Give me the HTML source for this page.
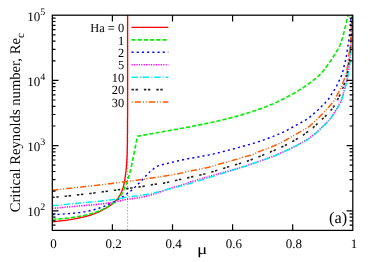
<!DOCTYPE html>
<html><head><meta charset="utf-8"><title>chart</title>
<style>
html,body{margin:0;padding:0;background:#fff;}
body{width:374px;height:262px;position:relative;overflow:hidden;font-family:"Liberation Serif",serif;color:#000;text-rendering:geometricPrecision;}
#tx{position:absolute;left:0;top:0;width:374px;height:262px;will-change:transform;}
.t{position:absolute;white-space:nowrap;font-size:13px;line-height:1;}
.xl{top:236.7px;transform:translateX(-50%);}
.yl{transform:translate(-100%,-50%);}
.yl sup{font-size:10px;line-height:0;vertical-align:5.8px;}
.lg{transform:translate(-100%,-50%);font-size:12.4px;}
</style></head><body>
<svg width="374" height="262" viewBox="0 0 374 262" style="position:absolute;left:0;top:0">
<rect width="374" height="262" fill="#fff"/>
<path d="M52.3,221.8 L53.8,221.7 L55.3,221.5 L56.8,221.4 L58.3,221.2 L59.7,221.0 L61.2,220.9 L62.7,220.7 L64.2,220.5 L65.7,220.3 L67.2,220.1 L68.7,219.9 L70.1,219.7 L71.6,219.4 L73.1,219.2 L74.6,218.9 L76.0,218.6 L77.5,218.3 L79.0,218.0 L80.4,217.7 L81.9,217.4 L83.4,217.0 L84.8,216.7 L86.3,216.3 L87.7,215.9 L89.1,215.5 L90.6,215.0 L92.0,214.6 L93.4,214.1 L94.8,213.5 L96.2,213.0 L97.6,212.4 L98.9,211.8 L100.3,211.1 L101.6,210.5 L103.0,209.8 L104.3,209.0 L105.6,208.3 L106.8,207.5 L108.2,206.8 L109.4,206.0 L110.7,205.1 L111.8,204.2 L113.0,203.2 L114.1,202.3 L115.2,201.2 L116.3,200.2 L117.2,199.0 L118.2,197.9 L119.0,196.6 L119.9,195.4 L120.6,194.1 L121.2,192.7 L121.8,191.3 L122.3,189.9 L122.8,188.5 L123.3,187.1 L123.7,185.7 L124.0,184.2 L124.3,182.7 L124.6,181.3 L124.8,179.8 L125.0,178.3 L125.2,176.8 L125.4,175.3 L125.6,173.8 L125.8,172.4 L126.0,170.9 L126.1,169.4 L126.3,167.9 L126.4,166.4 L126.6,164.9 L126.7,163.4 L126.8,161.9 L126.9,160.4 L126.9,158.9 L127.0,157.4 L127.1,155.9 L127.1,154.4 L127.2,152.9 L127.2,151.4 L127.2,150.0 L127.3,148.5 L127.3,147.0 L127.3,145.5 L127.4,144.0 L127.4,142.5 L127.4,141.0 L127.4,139.5 L127.4,138.0 L127.4,136.5 L127.4,135.0 L127.5,133.5 L127.5,132.0 L127.5,130.5 L127.5,129.0 L127.5,127.5 L127.5,126.0 L127.5,124.5 L127.5,123.0 L127.5,121.5 L127.5,120.0 L127.5,118.5 L127.6,117.0 L127.6,115.5 L127.6,114.0 L127.6,112.5 L127.6,111.0 L127.6,109.5 L127.6,108.0 L127.6,106.5 L127.6,105.0 L127.6,103.5 L127.6,102.0 L127.6,100.5 L127.6,99.0 L127.6,97.5 L127.6,96.1 L127.6,94.6 L127.6,93.1 L127.6,91.6 L127.6,90.1 L127.6,88.6 L127.6,87.1 L127.6,85.6 L127.6,84.1 L127.6,82.6 L127.6,81.1 L127.6,79.6 L127.6,78.1 L127.6,76.6 L127.6,75.1 L127.6,73.6 L127.6,72.1 L127.6,70.6 L127.6,69.1 L127.6,67.6 L127.6,66.1 L127.6,64.6 L127.6,63.1 L127.6,61.6 L127.6,60.1 L127.6,58.6 L127.6,57.1 L127.6,55.6 L127.6,54.1 L127.6,52.6 L127.6,51.1 L127.6,49.6 L127.6,48.1 L127.6,46.6 L127.6,45.1 L127.6,43.6 L127.6,42.2 L127.6,40.7 L127.6,39.2 L127.6,37.7 L127.6,36.2 L127.6,34.7 L127.6,33.2 L127.6,31.7 L127.6,30.2 L127.6,28.7 L127.6,27.2 L127.6,25.7 L127.6,24.2 L127.6,22.7 L127.6,21.2 L127.6,19.7 L127.6,18.2 L127.6,16.7 L127.7,15.2" fill="none" stroke="#ff0000" stroke-width="1.35" stroke-linejoin="round"/>
<path d="M52.3,219.4 L53.8,219.3 L55.3,219.2 L56.8,219.1 L58.3,219.0 L59.8,218.9 L61.3,218.8 L62.8,218.6 L64.2,218.5 L65.7,218.3 L67.2,218.2 L68.7,218.0 L70.2,217.8 L71.7,217.6 L73.1,217.4 L74.6,217.2 L76.1,216.9 L77.6,216.6 L79.1,216.4 L80.5,216.1 L82.0,215.8 L83.5,215.5 L84.9,215.2 L86.4,214.9 L87.9,214.5 L89.3,214.2 L90.7,213.8 L92.2,213.4 L93.6,212.9 L95.0,212.5 L96.5,212.0 L97.9,211.4 L99.3,210.9 L100.6,210.3 L102.0,209.7 L103.4,209.1 L104.7,208.4 L106.0,207.7 L107.3,207.0 L108.6,206.2 L109.9,205.5 L111.2,204.7 L112.4,203.8 L113.6,202.9 L114.8,202.0 L115.9,201.0 L117.0,200.0 L118.1,198.9 L119.1,197.8 L120.0,196.6 L120.9,195.4 L121.7,194.2 L122.4,192.9 L123.1,191.5 L123.7,190.2 L124.3,188.8 L124.9,187.4 L125.5,186.0 L126.0,184.6 L126.6,183.2 L127.1,181.8 L127.5,180.4 L128.0,179.0 L128.4,177.5 L128.9,176.1 L129.3,174.7 L129.7,173.2 L130.1,171.8 L130.5,170.3 L130.9,168.9 L131.2,167.4 L131.5,166.0 L131.8,164.5 L132.1,163.0 L132.4,161.6 L132.7,160.1 L133.0,158.6 L133.3,157.2 L133.6,155.7 L133.9,154.2 L134.2,152.8 L134.4,151.3 L134.7,149.8 L135.0,148.4 L135.3,146.9 L135.6,145.4 L135.9,143.9 L136.2,142.5 L136.5,141.0 L136.7,139.5 L137.0,138.1 L137.3,136.6 L137.7,136.2 L139.2,135.9 L140.6,135.7 L142.1,135.4 L143.6,135.1 L145.1,134.9 L146.5,134.6 L148.0,134.4 L149.5,134.1 L150.9,133.8 L152.4,133.6 L153.9,133.3 L155.4,133.0 L156.8,132.8 L158.3,132.5 L159.8,132.2 L161.2,132.0 L162.7,131.7 L164.2,131.4 L165.7,131.2 L167.1,130.9 L168.6,130.7 L170.1,130.4 L171.6,130.1 L173.0,129.9 L174.5,129.6 L176.0,129.3 L177.4,129.1 L178.9,128.8 L180.4,128.5 L181.9,128.3 L183.3,128.0 L184.8,127.7 L186.3,127.5 L187.7,127.2 L189.2,126.9 L190.7,126.6 L192.1,126.4 L193.6,126.1 L195.1,125.8 L196.5,125.5 L198.0,125.2 L199.5,124.9 L200.9,124.6 L202.4,124.3 L203.9,124.0 L205.3,123.7 L206.8,123.4 L208.3,123.1 L209.7,122.8 L211.2,122.5 L212.7,122.2 L214.1,121.8 L215.6,121.5 L217.0,121.2 L218.5,120.9 L219.9,120.5 L221.4,120.2 L222.9,119.8 L224.3,119.5 L225.8,119.1 L227.2,118.8 L228.7,118.4 L230.1,118.0 L231.6,117.6 L233.0,117.3 L234.5,116.9 L235.9,116.5 L237.3,116.1 L238.8,115.7 L240.2,115.3 L241.7,114.9 L243.1,114.4 L244.5,114.0 L246.0,113.6 L247.4,113.1 L248.8,112.7 L250.2,112.2 L251.7,111.8 L253.1,111.3 L254.5,110.8 L255.9,110.4 L257.3,109.9 L258.7,109.4 L260.1,108.9 L261.6,108.3 L263.0,107.8 L264.4,107.3 L265.8,106.8 L267.2,106.2 L268.5,105.7 L269.9,105.1 L271.3,104.5 L272.7,104.0 L274.1,103.4 L275.4,102.8 L276.8,102.2 L278.2,101.5 L279.5,100.9 L280.8,100.2 L282.2,99.5 L283.5,98.9 L284.8,98.2 L286.2,97.5 L287.5,96.8 L288.8,96.1 L290.1,95.4 L291.4,94.7 L292.8,93.9 L294.1,93.2 L295.3,92.5 L296.6,91.7 L297.9,90.9 L299.2,90.1 L300.4,89.3 L301.7,88.5 L303.0,87.7 L304.2,86.9 L305.4,86.0 L306.7,85.2 L307.9,84.3 L309.1,83.4 L310.3,82.6 L311.5,81.7 L312.7,80.7 L313.9,79.8 L315.1,78.9 L316.2,77.9 L317.4,77.0 L318.5,76.0 L319.6,74.9 L320.6,73.9 L321.6,72.8 L322.6,71.7 L323.5,70.5 L324.5,69.4 L325.4,68.2 L326.3,67.0 L327.2,65.7 L328.0,64.5 L328.9,63.3 L329.8,62.1 L330.6,60.9 L331.5,59.6 L332.3,58.4 L333.1,57.1 L333.9,55.8 L334.7,54.6 L335.5,53.3 L336.2,52.0 L337.0,50.7 L337.8,49.4 L338.6,48.1 L339.3,46.8 L339.9,45.5 L340.4,44.1 L341.0,42.7 L341.4,41.3 L341.9,39.9 L342.3,38.4 L342.7,37.0 L343.1,35.5 L343.5,34.1 L343.9,32.6 L344.2,31.2 L344.6,29.7 L345.0,28.3 L345.3,26.8 L345.7,25.4 L346.0,23.9 L346.4,22.5 L346.7,21.0 L347.1,19.6 L347.4,18.1 L347.8,16.7 L348.1,15.2" fill="none" stroke="#00f000" stroke-width="1.65" stroke-dasharray="4.1 2.1" stroke-linejoin="round"/>
<path d="M52.3,214.7 L53.8,214.6 L55.3,214.5 L56.8,214.5 L58.3,214.4 L59.8,214.3 L61.3,214.2 L62.8,214.1 L64.3,213.9 L65.8,213.8 L67.2,213.7 L68.7,213.6 L70.2,213.5 L71.7,213.4 L73.2,213.2 L74.7,213.1 L76.2,212.9 L77.7,212.8 L79.2,212.6 L80.7,212.4 L82.1,212.2 L83.6,211.9 L85.1,211.7 L86.6,211.4 L88.0,211.1 L89.5,210.8 L91.0,210.4 L92.4,210.1 L93.9,209.7 L95.3,209.3 L96.8,208.9 L98.2,208.5 L99.6,208.0 L101.0,207.5 L102.4,207.0 L103.8,206.5 L105.2,205.9 L106.6,205.3 L108.0,204.7 L109.3,204.1 L110.7,203.5 L112.0,202.8 L113.4,202.1 L114.7,201.4 L116.0,200.7 L117.3,199.9 L118.6,199.2 L119.9,198.4 L121.2,197.6 L122.4,196.9 L123.7,196.0 L125.0,195.2 L126.2,194.4 L127.4,193.5 L128.6,192.6 L129.8,191.7 L131.0,190.7 L132.1,189.8 L133.2,188.8 L134.3,187.7 L135.4,186.7 L136.5,185.7 L137.6,184.6 L138.6,183.6 L139.7,182.5 L140.7,181.5 L141.8,180.4 L142.8,179.3 L143.8,178.1 L144.8,177.0 L145.8,175.9 L146.8,174.8 L147.9,173.8 L148.9,172.7 L150.0,171.7 L151.2,170.7 L152.3,169.8 L153.5,168.8 L154.7,167.9 L155.9,167.1 L157.2,166.3 L158.6,165.7 L160.0,165.3 L161.5,164.9 L162.9,164.5 L164.4,164.2 L165.8,163.8 L167.3,163.5 L168.7,163.1 L170.2,162.8 L171.6,162.4 L173.1,162.1 L174.6,161.7 L176.0,161.4 L177.5,161.0 L178.9,160.7 L180.4,160.4 L181.9,160.0 L183.3,159.7 L184.8,159.4 L186.3,159.1 L187.7,158.8 L189.2,158.5 L190.7,158.3 L192.1,158.0 L193.6,157.7 L195.1,157.5 L196.6,157.2 L198.0,157.0 L199.5,156.7 L201.0,156.4 L202.5,156.2 L203.9,155.9 L205.4,155.7 L206.9,155.4 L208.4,155.1 L209.8,154.8 L211.3,154.5 L212.7,154.1 L214.2,153.8 L215.7,153.4 L217.1,153.1 L218.6,152.7 L220.0,152.4 L221.5,152.0 L222.9,151.6 L224.4,151.2 L225.8,150.9 L227.3,150.5 L228.7,150.1 L230.2,149.7 L231.6,149.3 L233.1,149.0 L234.5,148.6 L236.0,148.2 L237.4,147.8 L238.9,147.4 L240.3,147.0 L241.8,146.6 L243.2,146.2 L244.6,145.8 L246.1,145.4 L247.5,145.0 L249.0,144.6 L250.4,144.2 L251.8,143.8 L253.3,143.3 L254.7,142.9 L256.1,142.4 L257.6,142.0 L259.0,141.5 L260.4,141.0 L261.8,140.6 L263.2,140.1 L264.6,139.6 L266.0,139.0 L267.5,138.5 L268.9,138.0 L270.3,137.5 L271.7,136.9 L273.1,136.4 L274.5,135.8 L275.8,135.3 L277.2,134.7 L278.6,134.1 L280.0,133.6 L281.4,133.0 L282.7,132.4 L284.1,131.7 L285.4,131.1 L286.8,130.4 L288.1,129.7 L289.4,129.0 L290.7,128.2 L292.0,127.5 L293.3,126.8 L294.6,126.0 L295.9,125.3 L297.2,124.6 L298.6,123.9 L299.9,123.2 L301.2,122.5 L302.6,121.8 L303.9,121.1 L305.2,120.3 L306.4,119.5 L307.7,118.6 L308.9,117.8 L310.1,116.9 L311.2,115.9 L312.3,114.9 L313.5,113.9 L314.6,112.9 L315.7,112.0 L316.9,111.0 L318.0,110.0 L319.1,109.0 L320.1,107.9 L321.2,106.8 L322.2,105.8 L323.3,104.7 L324.4,103.7 L325.4,102.6 L326.4,101.5 L327.4,100.3 L328.3,99.2 L329.2,98.0 L330.0,96.7 L330.8,95.4 L331.6,94.1 L332.4,92.9 L333.2,91.6 L334.0,90.4 L334.8,89.1 L335.5,87.8 L336.3,86.5 L337.0,85.2 L337.6,83.8 L338.3,82.5 L338.9,81.1 L339.6,79.8 L340.2,78.4 L340.9,77.1 L341.4,75.7 L341.9,74.3 L342.4,72.8 L342.8,71.4 L343.2,70.0 L343.6,68.5 L343.9,67.0 L344.2,65.6 L344.6,64.1 L345.0,62.7 L345.3,61.2 L345.6,59.7 L345.9,58.3 L346.3,56.8 L346.5,55.3 L346.8,53.9 L347.0,52.4 L347.2,50.9 L347.4,49.4 L347.6,47.9 L347.9,46.5 L348.1,45.0 L348.3,43.5 L348.6,42.0 L348.8,40.5 L349.0,39.1 L349.2,37.6 L349.4,36.1 L349.5,34.6 L349.7,33.1 L349.9,31.6 L350.0,30.1 L350.1,28.6 L350.3,27.1 L350.4,25.7 L350.5,24.2 L350.6,22.7 L350.7,21.2 L350.8,19.7 L350.9,18.2 L351.1,16.7 L351.2,15.2" fill="none" stroke="#0000ff" stroke-width="1.45" stroke-dasharray="2.1 3.1" stroke-linejoin="round"/>
<path d="M52.3,208.4 L53.8,208.3 L55.3,208.1 L56.8,208.0 L58.3,207.9 L59.8,207.7 L61.3,207.6 L62.7,207.5 L64.2,207.3 L65.7,207.2 L67.2,207.0 L68.7,206.9 L70.2,206.8 L71.7,206.6 L73.2,206.5 L74.7,206.4 L76.2,206.2 L77.7,206.1 L79.2,206.0 L80.7,205.8 L82.2,205.7 L83.7,205.6 L85.1,205.5 L86.6,205.3 L88.1,205.2 L89.6,205.1 L91.1,205.0 L92.6,204.9 L94.1,204.7 L95.6,204.6 L97.1,204.5 L98.6,204.3 L100.1,204.1 L101.6,204.0 L103.1,203.8 L104.5,203.6 L106.0,203.4 L107.5,203.2 L109.0,202.9 L110.5,202.7 L111.9,202.4 L113.4,202.2 L114.9,201.9 L116.4,201.6 L117.8,201.3 L119.3,201.0 L120.8,200.7 L122.2,200.4 L123.7,200.0 L125.2,199.7 L126.6,199.4 L128.1,199.2 L129.6,199.0 L131.1,198.8 L132.6,198.6 L134.1,198.4 L135.6,198.2 L137.0,198.0 L138.5,197.8 L140.0,197.5 L141.4,197.2 L142.9,196.9 L144.4,196.6 L145.8,196.2 L147.3,195.9 L148.8,195.5 L150.2,195.1 L151.6,194.7 L153.1,194.3 L154.5,193.9 L155.9,193.4 L157.4,193.0 L158.8,192.5 L160.2,192.0 L161.6,191.5 L163.1,191.0 L164.5,190.5 L165.9,190.0 L167.3,189.5 L168.7,189.0 L170.1,188.4 L171.5,187.9 L172.9,187.4 L174.3,186.9 L175.8,186.5 L177.2,186.2 L178.7,185.8 L180.1,185.5 L181.6,185.1 L183.0,184.6 L184.4,184.2 L185.9,183.7 L187.3,183.2 L188.7,182.7 L190.1,182.2 L191.5,181.7 L192.9,181.2 L194.4,180.8 L195.8,180.4 L197.2,179.9 L198.7,179.5 L200.1,179.1 L201.6,178.6 L203.0,178.2 L204.4,177.8 L205.9,177.4 L207.3,177.0 L208.8,176.5 L210.2,176.1 L211.6,175.7 L213.1,175.3 L214.5,174.9 L216.0,174.5 L217.4,174.1 L218.8,173.7 L220.3,173.3 L221.7,172.9 L223.2,172.5 L224.6,172.1 L226.1,171.7 L227.5,171.3 L229.0,170.9 L230.4,170.5 L231.8,170.1 L233.3,169.7 L234.7,169.2 L236.2,168.8 L237.6,168.4 L239.1,168.0 L240.5,167.6 L241.9,167.2 L243.4,166.7 L244.8,166.3 L246.2,165.8 L247.6,165.3 L249.0,164.8 L250.5,164.3 L251.9,163.8 L253.3,163.4 L254.7,162.9 L256.1,162.4 L257.5,161.9 L259.0,161.4 L260.4,160.9 L261.8,160.4 L263.2,159.9 L264.6,159.4 L266.0,158.9 L267.5,158.4 L268.9,157.9 L270.3,157.4 L271.7,156.9 L273.1,156.3 L274.5,155.8 L275.8,155.2 L277.2,154.6 L278.6,154.0 L280.0,153.4 L281.3,152.8 L282.7,152.2 L284.1,151.6 L285.5,151.0 L286.8,150.4 L288.2,149.7 L289.5,149.1 L290.9,148.4 L292.2,147.8 L293.6,147.1 L294.9,146.4 L296.2,145.7 L297.5,145.0 L298.8,144.2 L300.1,143.5 L301.5,142.8 L302.8,142.1 L304.1,141.4 L305.4,140.6 L306.7,139.8 L307.9,139.0 L309.2,138.2 L310.4,137.3 L311.6,136.4 L312.8,135.5 L314.0,134.6 L315.1,133.6 L316.3,132.6 L317.4,131.7 L318.5,130.7 L319.6,129.7 L320.7,128.6 L321.8,127.5 L322.8,126.5 L323.8,125.4 L324.9,124.3 L326.0,123.3 L327.0,122.2 L328.0,121.1 L329.0,120.0 L330.0,118.9 L331.0,117.7 L331.8,116.5 L332.7,115.3 L333.5,114.0 L334.3,112.7 L335.1,111.5 L335.9,110.2 L336.7,108.9 L337.5,107.6 L338.2,106.3 L339.0,105.0 L339.7,103.7 L340.4,102.4 L341.0,101.0 L341.5,99.6 L342.0,98.2 L342.4,96.7 L342.8,95.3 L343.2,93.9 L343.6,92.4 L344.0,91.0 L344.4,89.5 L344.8,88.1 L345.2,86.6 L345.6,85.2 L346.0,83.7 L346.4,82.3 L346.7,80.8 L347.0,79.4 L347.3,77.9 L347.6,76.4 L347.8,74.9 L348.1,73.5 L348.3,72.0 L348.5,70.5 L348.7,69.0 L348.9,67.5 L349.1,66.0 L349.4,64.6 L349.6,63.1 L349.8,61.6 L350.0,60.1 L350.2,58.6 L350.3,57.1 L350.4,55.6 L350.5,54.1 L350.6,52.6 L350.7,51.1 L350.8,49.6 L350.9,48.1 L351.0,46.6 L351.1,45.2 L351.1,43.7 L351.2,42.2 L351.3,40.7 L351.4,39.2 L351.4,37.7 L351.5,36.2 L351.6,34.7 L351.7,33.2 L351.7,31.7 L351.8,30.2 L351.8,28.7 L351.9,27.2 L352.0,25.7 L352.0,24.2 L352.1,22.7 L352.1,21.2 L352.2,19.7 L352.2,18.2 L352.3,16.7 L352.3,15.2" fill="none" stroke="#ff00ff" stroke-width="1.6" stroke-dasharray="1.2 1.23" stroke-linejoin="round"/>
<path d="M52.3,205.8 L53.8,205.6 L55.3,205.5 L56.8,205.3 L58.3,205.2 L59.7,205.0 L61.2,204.9 L62.7,204.7 L64.2,204.6 L65.7,204.4 L67.2,204.3 L68.7,204.1 L70.2,204.0 L71.7,203.8 L73.2,203.7 L74.6,203.5 L76.1,203.4 L77.6,203.2 L79.1,203.1 L80.6,202.9 L82.1,202.8 L83.6,202.7 L85.1,202.5 L86.6,202.4 L88.1,202.3 L89.6,202.1 L91.1,202.0 L92.5,201.9 L94.0,201.7 L95.5,201.6 L97.0,201.5 L98.5,201.3 L100.0,201.2 L101.5,201.0 L103.0,200.8 L104.5,200.7 L105.9,200.5 L107.4,200.3 L108.9,200.1 L110.4,199.9 L111.9,199.7 L113.4,199.5 L114.9,199.3 L116.3,199.1 L117.8,198.9 L119.3,198.6 L120.8,198.4 L122.2,198.0 L123.7,197.7 L125.2,197.4 L126.6,197.1 L128.1,196.9 L129.6,196.8 L131.1,196.6 L132.6,196.4 L134.1,196.2 L135.6,196.1 L137.0,195.9 L138.5,195.7 L140.0,195.5 L141.5,195.2 L143.0,195.0 L144.4,194.7 L145.9,194.5 L147.4,194.2 L148.9,194.0 L150.3,193.7 L151.8,193.4 L153.3,193.1 L154.7,192.7 L156.2,192.4 L157.6,192.0 L159.1,191.7 L160.5,191.3 L162.0,190.9 L163.4,190.5 L164.9,190.2 L166.3,189.8 L167.8,189.4 L169.2,189.0 L170.7,188.6 L172.1,188.2 L173.6,187.8 L175.0,187.4 L176.5,187.0 L177.9,186.7 L179.4,186.3 L180.8,185.9 L182.3,185.6 L183.7,185.2 L185.2,184.8 L186.6,184.4 L188.1,184.0 L189.5,183.6 L190.9,183.2 L192.4,182.8 L193.8,182.3 L195.2,181.9 L196.7,181.5 L198.1,181.0 L199.5,180.6 L201.0,180.1 L202.4,179.7 L203.8,179.2 L205.2,178.8 L206.7,178.3 L208.1,177.9 L209.5,177.4 L211.0,177.0 L212.4,176.6 L213.8,176.1 L215.3,175.7 L216.7,175.2 L218.1,174.8 L219.5,174.3 L221.0,173.9 L222.4,173.4 L223.8,173.0 L225.3,172.5 L226.7,172.1 L228.1,171.6 L229.5,171.2 L231.0,170.7 L232.4,170.3 L233.8,169.8 L235.3,169.4 L236.7,169.0 L238.1,168.5 L239.6,168.1 L241.0,167.6 L242.4,167.2 L243.8,166.7 L245.3,166.2 L246.7,165.8 L248.1,165.3 L249.5,164.8 L250.9,164.3 L252.3,163.8 L253.7,163.3 L255.2,162.8 L256.6,162.3 L258.0,161.8 L259.4,161.4 L260.8,160.9 L262.2,160.4 L263.7,159.9 L265.1,159.4 L266.5,158.9 L267.9,158.4 L269.3,157.9 L270.7,157.4 L272.1,156.8 L273.5,156.3 L274.9,155.7 L276.3,155.1 L277.6,154.5 L279.0,153.9 L280.4,153.4 L281.8,152.7 L283.1,152.1 L284.5,151.5 L285.9,150.9 L287.2,150.3 L288.6,149.7 L290.0,149.0 L291.3,148.4 L292.6,147.7 L294.0,147.0 L295.3,146.3 L296.6,145.6 L297.9,144.9 L299.2,144.2 L300.5,143.5 L301.9,142.7 L303.2,142.0 L304.5,141.3 L305.8,140.6 L307.1,139.8 L308.3,139.0 L309.5,138.1 L310.8,137.2 L312.0,136.3 L313.2,135.4 L314.3,134.5 L315.5,133.5 L316.6,132.6 L317.8,131.6 L318.9,130.6 L320.0,129.6 L321.1,128.6 L322.1,127.5 L323.2,126.4 L324.2,125.3 L325.2,124.3 L326.3,123.2 L327.4,122.1 L328.4,121.1 L329.4,119.9 L330.4,118.8 L331.3,117.6 L332.2,116.4 L333.0,115.2 L333.9,113.9 L334.7,112.7 L335.5,111.4 L336.2,110.1 L337.0,108.9 L337.8,107.6 L338.6,106.3 L339.3,105.0 L340.0,103.7 L340.7,102.3 L341.3,101.0 L341.9,99.6 L342.3,98.1 L342.7,96.7 L343.1,95.3 L343.5,93.8 L343.9,92.4 L344.3,90.9 L344.7,89.5 L345.1,88.0 L345.5,86.6 L345.9,85.1 L346.3,83.7 L346.7,82.3 L347.0,80.8 L347.3,79.3 L347.6,77.9 L347.9,76.4 L348.1,74.9 L348.4,73.4 L348.6,71.9 L348.8,70.5 L349.0,69.0 L349.2,67.5 L349.4,66.0 L349.7,64.5 L349.9,63.1 L350.1,61.6 L350.2,60.1 L350.4,58.6 L350.5,57.1 L350.6,55.6 L350.7,54.1 L350.8,52.6 L350.8,51.1 L350.9,49.6 L351.0,48.1 L351.1,46.6 L351.1,45.1 L351.2,43.6 L351.3,42.1 L351.4,40.6 L351.4,39.2 L351.5,37.7 L351.6,36.2 L351.6,34.7 L351.7,33.2 L351.7,31.7 L351.8,30.2 L351.8,28.7 L351.8,27.2 L351.9,25.7 L351.9,24.2 L352.0,22.7 L352.0,21.2 L352.0,19.7 L352.1,18.2 L352.1,16.7 L352.1,15.2" fill="none" stroke="#00eeee" stroke-width="1.5" stroke-dasharray="6.3 2.2 1 1.9" stroke-linejoin="round"/>
<path d="M52.3,197.4 L53.8,197.3 L55.3,197.1 L56.8,197.0 L58.3,196.9 L59.8,196.7 L61.3,196.6 L62.7,196.4 L64.2,196.3 L65.7,196.2 L67.2,196.0 L68.7,195.9 L70.2,195.7 L71.7,195.5 L73.2,195.4 L74.7,195.2 L76.2,195.1 L77.6,194.9 L79.1,194.7 L80.6,194.6 L82.1,194.4 L83.6,194.2 L85.1,194.1 L86.6,193.9 L88.1,193.7 L89.5,193.5 L91.0,193.4 L92.5,193.2 L94.0,193.0 L95.5,192.8 L97.0,192.6 L98.5,192.4 L99.9,192.2 L101.4,192.0 L102.9,191.8 L104.4,191.6 L105.9,191.4 L107.4,191.2 L108.9,191.0 L110.3,190.8 L111.8,190.6 L113.3,190.4 L114.8,190.2 L116.3,190.0 L117.8,189.8 L119.3,189.6 L120.7,189.4 L122.2,189.2 L123.7,189.0 L125.2,188.8 L126.7,188.6 L128.2,188.4 L129.6,188.2 L131.1,188.0 L132.6,187.9 L134.1,187.7 L135.6,187.5 L137.1,187.3 L138.6,187.1 L140.0,186.8 L141.5,186.6 L143.0,186.4 L144.5,186.1 L145.9,185.9 L147.4,185.6 L148.9,185.3 L150.4,185.1 L151.8,184.8 L153.3,184.6 L154.8,184.3 L156.3,184.1 L157.8,183.9 L159.3,183.7 L160.7,183.5 L162.2,183.3 L163.7,183.1 L165.2,182.8 L166.7,182.6 L168.1,182.3 L169.6,182.0 L171.1,181.7 L172.5,181.3 L174.0,181.0 L175.4,180.6 L176.9,180.2 L178.3,179.9 L179.8,179.5 L181.2,179.2 L182.7,178.9 L184.2,178.6 L185.6,178.2 L187.1,177.9 L188.6,177.6 L190.0,177.3 L191.5,176.9 L192.9,176.6 L194.4,176.3 L195.9,176.0 L197.3,175.7 L198.8,175.3 L200.3,175.0 L201.7,174.7 L203.2,174.3 L204.6,174.0 L206.1,173.6 L207.5,173.2 L209.0,172.7 L210.4,172.3 L211.8,171.9 L213.3,171.4 L214.7,171.0 L216.1,170.6 L217.6,170.1 L219.0,169.7 L220.4,169.3 L221.9,168.9 L223.3,168.4 L224.7,168.0 L226.2,167.6 L227.6,167.1 L229.0,166.7 L230.5,166.3 L231.9,165.9 L233.4,165.4 L234.8,165.0 L236.2,164.6 L237.7,164.2 L239.1,163.7 L240.5,163.3 L242.0,162.8 L243.4,162.4 L244.8,161.9 L246.2,161.4 L247.6,160.9 L249.1,160.4 L250.5,160.0 L251.9,159.4 L253.3,158.9 L254.7,158.4 L256.1,157.9 L257.5,157.3 L258.9,156.7 L260.3,156.2 L261.6,155.6 L263.0,155.1 L264.4,154.5 L265.8,153.9 L267.2,153.4 L268.6,152.8 L270.0,152.2 L271.3,151.6 L272.7,151.0 L274.1,150.4 L275.5,149.8 L276.8,149.2 L278.2,148.6 L279.6,148.0 L280.9,147.4 L282.3,146.8 L283.6,146.1 L285.0,145.5 L286.3,144.8 L287.7,144.1 L289.0,143.4 L290.3,142.7 L291.6,142.0 L292.9,141.3 L294.2,140.5 L295.5,139.8 L296.8,139.0 L298.1,138.2 L299.4,137.4 L300.6,136.6 L301.9,135.8 L303.2,135.0 L304.4,134.2 L305.6,133.3 L306.8,132.4 L308.0,131.5 L309.2,130.6 L310.4,129.7 L311.6,128.8 L312.7,127.8 L313.9,126.9 L315.0,125.9 L316.1,124.9 L317.2,123.8 L318.3,122.8 L319.4,121.8 L320.5,120.8 L321.6,119.7 L322.7,118.7 L323.7,117.7 L324.8,116.6 L325.9,115.6 L326.9,114.5 L327.9,113.4 L329.0,112.3 L330.0,111.2 L331.0,110.0 L331.9,108.9 L332.8,107.7 L333.8,106.5 L334.6,105.3 L335.4,104.1 L336.1,102.7 L336.8,101.4 L337.4,100.0 L338.1,98.7 L338.7,97.3 L339.4,96.0 L340.1,94.7 L340.7,93.3 L341.3,91.9 L341.8,90.5 L342.3,89.1 L342.9,87.7 L343.4,86.3 L343.9,84.9 L344.3,83.5 L344.8,82.0 L345.3,80.6 L345.7,79.2 L346.1,77.7 L346.5,76.3 L346.9,74.8 L347.2,73.4 L347.4,71.9 L347.6,70.4 L347.8,68.9 L348.0,67.4 L348.2,66.0 L348.5,64.5 L348.7,63.0 L348.9,61.5 L349.1,60.0 L349.3,58.5 L349.5,57.1 L349.7,55.6 L349.8,54.1 L350.0,52.6 L350.1,51.1 L350.3,49.6 L350.4,48.1 L350.6,46.6 L350.7,45.1 L350.8,43.6 L350.9,42.1 L351.0,40.6 L351.0,39.1 L351.1,37.7 L351.2,36.2 L351.3,34.7 L351.3,33.2 L351.4,31.7 L351.5,30.2 L351.5,28.7 L351.6,27.2 L351.7,25.7 L351.7,24.2 L351.8,22.7 L351.8,21.2 L351.9,19.7 L351.9,18.2 L352.0,16.7 L352.0,15.2" fill="none" stroke="#222222" stroke-width="1.6" stroke-dasharray="2.4 1.6 2.4 6" stroke-linejoin="round"/>
<path d="M52.3,190.3 L53.8,190.1 L55.3,190.0 L56.8,189.8 L58.2,189.6 L59.7,189.4 L61.2,189.3 L62.7,189.1 L64.2,188.9 L65.7,188.8 L67.1,188.6 L68.6,188.4 L70.1,188.2 L71.6,188.1 L73.1,187.9 L74.6,187.7 L76.1,187.6 L77.5,187.4 L79.0,187.2 L80.5,187.1 L82.0,186.9 L83.5,186.7 L85.0,186.6 L86.5,186.4 L87.9,186.2 L89.4,186.1 L90.9,185.9 L92.4,185.7 L93.9,185.6 L95.4,185.4 L96.9,185.3 L98.3,185.1 L99.8,184.9 L101.3,184.7 L102.8,184.6 L104.3,184.4 L105.8,184.2 L107.2,184.0 L108.7,183.8 L110.2,183.7 L111.7,183.5 L113.2,183.3 L114.7,183.1 L116.1,182.9 L117.6,182.7 L119.1,182.5 L120.6,182.3 L122.1,182.1 L123.5,181.9 L125.0,181.7 L126.5,181.6 L128.0,181.4 L129.5,181.2 L131.0,181.0 L132.4,180.8 L133.9,180.6 L135.4,180.4 L136.9,180.2 L138.4,180.0 L139.8,179.8 L141.3,179.6 L142.8,179.4 L144.3,179.1 L145.8,178.9 L147.2,178.7 L148.7,178.5 L150.2,178.2 L151.7,178.0 L153.1,177.8 L154.6,177.6 L156.1,177.3 L157.6,177.1 L159.1,176.9 L160.5,176.7 L162.0,176.5 L163.5,176.2 L165.0,176.0 L166.5,175.8 L167.9,175.6 L169.4,175.3 L170.9,175.1 L172.4,174.9 L173.8,174.6 L175.3,174.3 L176.8,174.0 L178.2,173.7 L179.7,173.4 L181.1,173.0 L182.6,172.7 L184.0,172.3 L185.5,172.0 L186.9,171.6 L188.4,171.3 L189.9,171.0 L191.3,170.7 L192.8,170.4 L194.3,170.2 L195.7,169.9 L197.2,169.6 L198.7,169.3 L200.1,169.0 L201.6,168.7 L203.1,168.4 L204.5,168.1 L206.0,167.9 L207.5,167.5 L208.9,167.2 L210.4,166.8 L211.8,166.4 L213.2,166.0 L214.7,165.5 L216.1,165.1 L217.5,164.7 L219.0,164.2 L220.4,163.8 L221.8,163.4 L223.3,163.0 L224.7,162.6 L226.2,162.3 L227.6,161.9 L229.0,161.5 L230.5,161.0 L231.9,160.6 L233.3,160.2 L234.8,159.8 L236.2,159.4 L237.6,158.9 L239.1,158.5 L240.5,158.1 L241.9,157.6 L243.4,157.2 L244.8,156.8 L246.2,156.4 L247.7,156.0 L249.1,155.6 L250.6,155.2 L252.0,154.8 L253.4,154.3 L254.8,153.7 L256.1,153.0 L257.4,152.3 L258.8,151.7 L260.2,151.1 L261.6,150.6 L263.0,150.1 L264.4,149.6 L265.8,149.1 L267.2,148.6 L268.6,148.1 L270.0,147.6 L271.4,147.0 L272.8,146.4 L274.2,145.8 L275.5,145.2 L276.9,144.6 L278.3,144.0 L279.6,143.3 L281.0,142.7 L282.3,142.0 L283.6,141.3 L284.9,140.6 L286.2,139.9 L287.5,139.1 L288.8,138.3 L290.0,137.5 L291.3,136.8 L292.7,136.1 L294.0,135.4 L295.3,134.6 L296.6,133.9 L297.9,133.2 L299.2,132.4 L300.5,131.7 L301.7,130.9 L303.0,130.2 L304.4,129.5 L305.7,128.7 L307.0,128.0 L308.2,127.2 L309.4,126.3 L310.6,125.3 L311.7,124.3 L312.7,123.3 L313.8,122.2 L314.9,121.2 L316.0,120.2 L317.1,119.2 L318.2,118.1 L319.2,117.1 L320.3,116.0 L321.3,115.0 L322.4,113.9 L323.4,112.8 L324.4,111.7 L325.4,110.6 L326.5,109.5 L327.5,108.4 L328.5,107.3 L329.5,106.2 L330.5,105.1 L331.4,103.9 L332.4,102.8 L333.3,101.6 L334.2,100.4 L335.0,99.2 L335.7,97.9 L336.4,96.5 L337.1,95.2 L337.8,93.9 L338.5,92.5 L339.1,91.2 L339.8,89.8 L340.4,88.5 L341.0,87.1 L341.7,85.8 L342.3,84.4 L342.9,83.0 L343.4,81.6 L343.9,80.2 L344.4,78.8 L344.9,77.4 L345.4,76.0 L345.8,74.6 L346.2,73.1 L346.6,71.7 L346.9,70.2 L347.1,68.7 L347.4,67.3 L347.6,65.8 L347.7,64.3 L347.9,62.8 L348.1,61.3 L348.2,59.8 L348.4,58.4 L348.6,56.9 L348.8,55.4 L349.0,53.9 L349.2,52.4 L349.5,51.0 L349.7,49.5 L349.9,48.0 L350.1,46.5 L350.4,45.0 L350.5,43.6 L350.7,42.1 L350.8,40.6 L350.9,39.1 L351.0,37.6 L351.0,36.1 L351.1,34.6 L351.2,33.1 L351.2,31.6 L351.3,30.1 L351.4,28.6 L351.4,27.2 L351.5,25.7 L351.5,24.2 L351.6,22.7 L351.6,21.2 L351.7,19.7 L351.7,18.2 L351.8,16.7 L351.8,15.2" fill="none" stroke="#ff5a00" stroke-width="1.5" stroke-dasharray="6.2 2 1 1.7 1 2.1" stroke-linejoin="round"/>
<path d="M127.6,15.2 V230.4" stroke="#333" stroke-opacity="0.6" stroke-width="1" stroke-dasharray="1 2.05" fill="none"/>
<path d="M131.5,27.4 H168.3" fill="none" stroke="#ff0000" stroke-width="1.35" />
<path d="M131.5,39.9 H168.3" fill="none" stroke="#00f000" stroke-width="1.65" stroke-dasharray="4.1 2.1" />
<path d="M131.5,52.3 H168.3" fill="none" stroke="#0000ff" stroke-width="1.45" stroke-dasharray="2.1 3.1" />
<path d="M131.5,64.7 H168.3" fill="none" stroke="#ff00ff" stroke-width="1.6" stroke-dasharray="1.2 1.23" />
<path d="M131.5,77.2 H168.3" fill="none" stroke="#00eeee" stroke-width="1.5" stroke-dasharray="6.3 2.2 1 1.9" />
<path d="M131.5,89.6 H168.3" fill="none" stroke="#222222" stroke-width="1.6" stroke-dasharray="2.4 1.6 2.4 6" />
<path d="M131.5,102.1 H168.3" fill="none" stroke="#ff5a00" stroke-width="1.5" stroke-dasharray="6.2 2 1 1.7 1 2.1"  stroke-dashoffset="10.7"/>
<path d="M112.4,230.4 v-6.2 M112.4,15.2 v6.2 M172.5,230.4 v-6.2 M172.5,15.2 v6.2 M232.6,230.4 v-6.2 M232.6,15.2 v6.2 M292.7,230.4 v-6.2 M292.7,15.2 v6.2 M52.3,225.2 h3.2 M352.8,225.2 h-3.2 M52.3,220.9 h3.2 M352.8,220.9 h-3.2 M52.3,217.1 h3.2 M352.8,217.1 h-3.2 M52.3,213.8 h3.2 M352.8,213.8 h-3.2 M52.3,210.8 h6.2 M352.8,210.8 h-6.2 M52.3,191.2 h3.2 M352.8,191.2 h-3.2 M52.3,179.7 h3.2 M352.8,179.7 h-3.2 M52.3,171.5 h3.2 M352.8,171.5 h-3.2 M52.3,165.2 h3.2 M352.8,165.2 h-3.2 M52.3,160.0 h3.2 M352.8,160.0 h-3.2 M52.3,155.7 h3.2 M352.8,155.7 h-3.2 M52.3,151.9 h3.2 M352.8,151.9 h-3.2 M52.3,148.6 h3.2 M352.8,148.6 h-3.2 M52.3,145.6 h6.2 M352.8,145.6 h-6.2 M52.3,126.0 h3.2 M352.8,126.0 h-3.2 M52.3,114.5 h3.2 M352.8,114.5 h-3.2 M52.3,106.3 h3.2 M352.8,106.3 h-3.2 M52.3,100.0 h3.2 M352.8,100.0 h-3.2 M52.3,94.9 h3.2 M352.8,94.9 h-3.2 M52.3,90.5 h3.2 M352.8,90.5 h-3.2 M52.3,86.7 h3.2 M352.8,86.7 h-3.2 M52.3,83.4 h3.2 M352.8,83.4 h-3.2 M52.3,80.4 h6.2 M352.8,80.4 h-6.2 M52.3,60.8 h3.2 M352.8,60.8 h-3.2 M52.3,49.3 h3.2 M352.8,49.3 h-3.2 M52.3,41.1 h3.2 M352.8,41.1 h-3.2 M52.3,34.8 h3.2 M352.8,34.8 h-3.2 M52.3,29.7 h3.2 M352.8,29.7 h-3.2 M52.3,25.3 h3.2 M352.8,25.3 h-3.2 M52.3,21.5 h3.2 M352.8,21.5 h-3.2 M52.3,18.2 h3.2 M352.8,18.2 h-3.2" stroke="#000" stroke-width="1.2" fill="none"/>
<rect x="52.3" y="15.2" width="300.5" height="215.2" fill="none" stroke="#000" stroke-width="1.25"/>
</svg>
<div id="tx">
<div class="t xl" style="left:53.5px">0</div>
<div class="t xl" style="left:113.6px">0.2</div>
<div class="t xl" style="left:173.7px">0.4</div>
<div class="t xl" style="left:233.8px">0.6</div>
<div class="t xl" style="left:293.9px">0.8</div>
<div class="t xl" style="left:354.0px">1</div>
<div class="t yl" style="left:45.3px;top:211.3px">10<sup>2</sup></div>
<div class="t yl" style="left:45.3px;top:146.1px">10<sup>3</sup></div>
<div class="t yl" style="left:45.3px;top:80.9px">10<sup>4</sup></div>
<div class="t yl" style="left:45.3px;top:15.7px">10<sup>5</sup></div>
<div class="t lg" style="left:124.1px;top:28.0px">Ha = 0</div>
<div class="t lg" style="left:124.1px;top:40.5px">1</div>
<div class="t lg" style="left:124.1px;top:52.9px">2</div>
<div class="t lg" style="left:124.1px;top:65.3px">5</div>
<div class="t lg" style="left:124.1px;top:77.8px">10</div>
<div class="t lg" style="left:124.1px;top:90.2px">20</div>
<div class="t lg" style="left:124.1px;top:102.7px">30</div>
<div class="t" style="left:196.9px;top:242.6px;font-size:14.8px;transform-origin:0 0;transform:scaleX(1.3)">μ</div>
<div class="t" style="left:329.1px;top:209.7px;font-size:16.3px">(a)</div>
<div class="t" id="ylab" style="left:0;top:0;font-size:14.65px;transform-origin:0 0;transform:translate(9.2px,212.3px) rotate(-90deg)">Critical Reynolds number, Re<sub style="font-size:11px;line-height:0;vertical-align:-3.5px">c</sub></div>
</div></body></html>
